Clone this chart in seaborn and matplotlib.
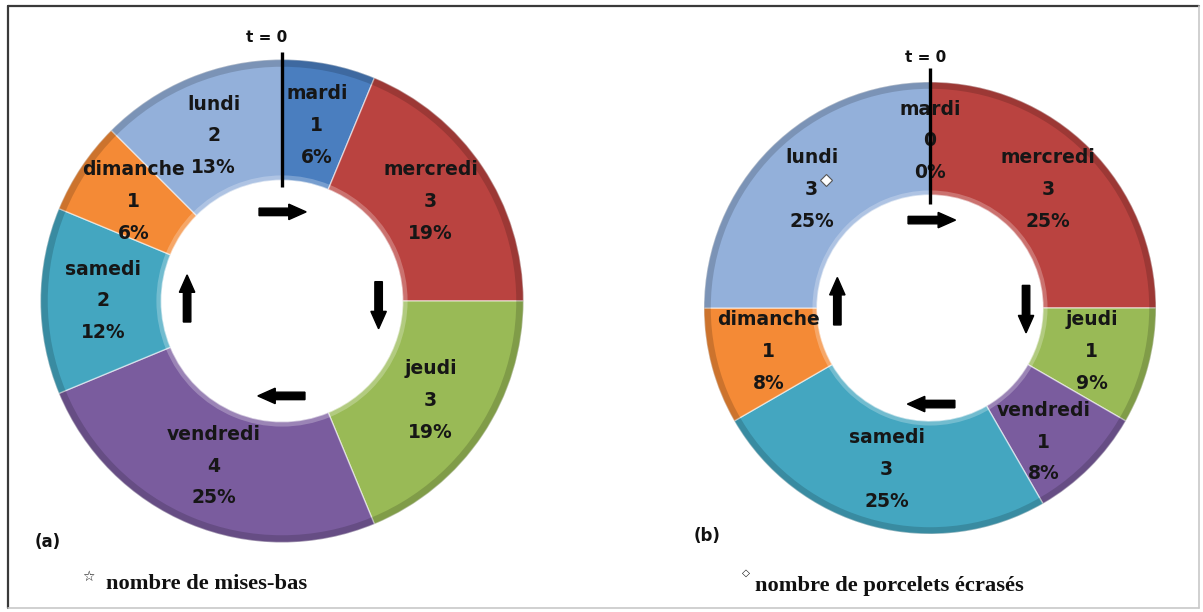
import matplotlib
matplotlib.use("Agg")
import matplotlib.pyplot as plt
import seaborn as sns
from matplotlib.lines import Line2D
from matplotlib.patches import Wedge

# Days, in clockwise order starting at t = 0
days = ["mardi", "mercredi", "jeudi", "vendredi", "samedi", "dimanche", "lundi"]

# (a) number of farrowings per day
mises_bas = [1, 3, 3, 4, 2, 1, 2]
mises_bas_pct = [6, 19, 19, 25, 12, 6, 13]

# (b) number of crushed piglets per day
ecrases = [0, 3, 1, 1, 3, 1, 3]
ecrases_pct = [0, 25, 9, 8, 25, 8, 25]

day_colors = ["#4A7EBF", "#BA4340", "#99BA56", "#7A5C9E",
              "#44A6C0", "#F48A36", "#93B0DA"]

sns.set_theme(style="white")
plt.rcParams["font.family"] = ["DejaVu Sans"]

W, H = 1203, 612
fig = plt.figure(figsize=(W / 100, H / 100), dpi=100)
palette = sns.color_palette(day_colors)
LIM = 1.1


def px_axes(cx, cy, r):
    half = r * LIM
    return fig.add_axes([(cx - half) / W, (H - cy - half) / H,
                         2 * half / W, 2 * half / H])


def donut(ax, counts, pcts, arrows, t0_x, t0_y, line_top, line_bottom,
          arrow_len, shaft, head_w, head_l):
    labels = [f"{d}\n{c}\n{p}%" for d, c, p in zip(days, counts, pcts)]
    wedges, texts = ax.pie(
        counts, labels=labels, colors=palette, startangle=90,
        counterclock=False, labeldistance=0.74, radius=1.0,
        wedgeprops=dict(width=0.5, edgecolor=(1, 1, 1, 0.55), linewidth=1.0),
        textprops=dict(ha="center", va="center", fontsize=13.5,
                       fontweight="bold", color="#161616", linespacing=1.85,
                       multialignment="center"),
    )
    ax.set_xlim(-LIM, LIM)
    ax.set_ylim(-LIM, LIM)
    ax.set_axis_off()

    # soft bevel: darker rim on the outside, light rim on the hole
    ax.add_patch(Wedge((0, 0), 1.0, 0, 360, width=0.03,
                       facecolor=(0, 0, 0, 0.16), edgecolor="none", zorder=2))
    ax.add_patch(Wedge((0, 0), 0.52, 0, 360, width=0.02,
                       facecolor=(1, 1, 1, 0.25), edgecolor="none", zorder=2))

    # start marker t = 0
    ax.add_line(Line2D([0, 0], [line_bottom, line_top], color="black",
                       lw=2.4, solid_capstyle="butt", zorder=5))
    ax.text(t0_x, t0_y, "t = 0", ha="center", va="center", fontsize=11,
            fontweight="bold", color="#111111", clip_on=False)

    # direction arrows inside the hole
    for (x0, y0, dx, dy) in arrows:
        ax.arrow(x0, y0, dx * arrow_len, dy * arrow_len, width=shaft,
                 head_width=head_w, head_length=head_l,
                 length_includes_head=True, color="black", zorder=6)
    return wedges, texts


# ---- (a) ----
axa = px_axes(282, 301, 241.5)
donut(axa, mises_bas, mises_bas_pct,
      arrows=[(-0.095, 0.369, 1, 0), (0.40, 0.08, 0, -1),
              (0.095, -0.393, -1, 0), (-0.393, -0.087, 0, 1)],
      t0_x=-0.062, t0_y=1.093, line_top=1.03, line_bottom=0.47,
      arrow_len=0.195, shaft=0.031, head_w=0.064, head_l=0.072)

# ---- (b) ----
axb = px_axes(930, 308, 226)
_, texts_b = donut(axb, ecrases, ecrases_pct,
                   arrows=[(-0.097, 0.389, 1, 0), (0.425, 0.10, 0, -1),
                           (0.11, -0.425, -1, 0), (-0.41, -0.075, 0, 1)],
                   t0_x=-0.018, t0_y=1.11, line_top=1.06, line_bottom=0.46,
                   arrow_len=0.21, shaft=0.033, head_w=0.068, head_l=0.077)

# the vendredi label sits a little lower so it clears the jeudi one
vx, vy = texts_b[days.index("vendredi")].get_position()
texts_b[days.index("vendredi")].set_position((vx - 0.022, vy - 0.07))

# small diamond next to the lundi count in (b)
lx, ly = texts_b[days.index("lundi")].get_position()
axb.plot(lx + 0.062, ly + 0.044, marker="D", ms=6, mfc="white",
         mec="#555555", mew=0.8, zorder=7, clip_on=False)


def fig_text(x, y, s, **kw):
    fig.text(x / W, 1 - y / H, s, **kw)


# panel letters
fig_text(48, 542, "(a)", ha="center", va="center", fontsize=12,
         fontweight="bold", color="#111111")
fig_text(707, 536, "(b)", ha="center", va="center", fontsize=12,
         fontweight="bold", color="#111111")

# footnotes
fig_text(88, 577, "\u2606", ha="center", va="center", fontsize=10,
         color="#111111")
fig_text(106, 584, "nombre de mises-bas", ha="left", va="center",
         fontsize=16.2, fontweight="bold", family=["Liberation Serif"],
         color="#111111")
fig_text(746, 573, "\u25C7", ha="center", va="center", fontsize=7.5,
         color="#111111")
fig_text(755, 586, "nombre de porcelets écrasés", ha="left", va="center",
         fontsize=16.2, fontweight="bold", family=["Liberation Serif"],
         color="#111111")

# outer frame
frame_dark = dict(color="#3a3a3a", lw=1.6, transform=fig.transFigure)
fig.add_artist(Line2D([8 / W, 8 / W], [1 - 6 / H, 1 - 608 / H], **frame_dark))
fig.add_artist(Line2D([8 / W, 1199 / W], [1 - 6 / H, 1 - 6 / H], **frame_dark))
frame_light = dict(color="#c8c8c8", lw=1.2, transform=fig.transFigure)
fig.add_artist(Line2D([8 / W, 1199 / W], [1 - 608 / H, 1 - 608 / H], **frame_light))
fig.add_artist(Line2D([1199 / W, 1199 / W], [1 - 6 / H, 1 - 608 / H], **frame_light))

fig.savefig("out.png", dpi=100, facecolor="white")
